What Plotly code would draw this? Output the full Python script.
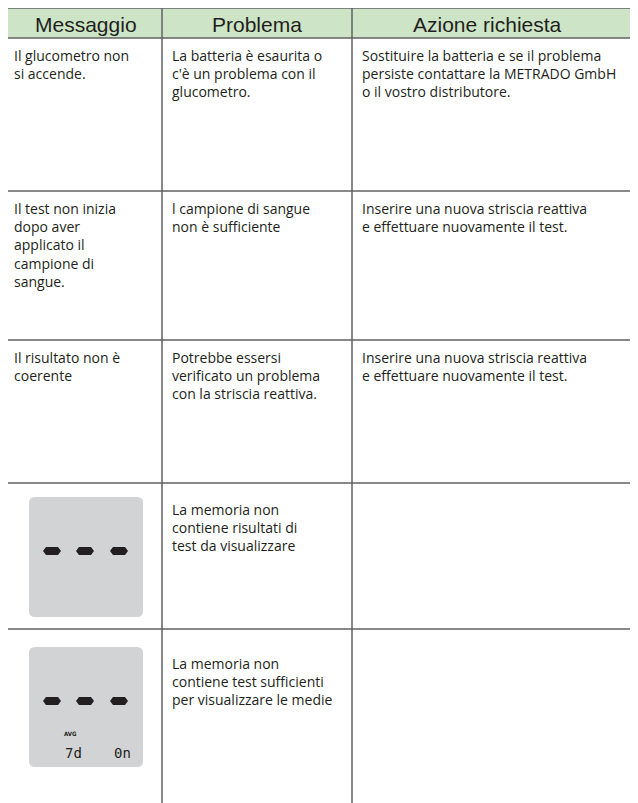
import plotly.graph_objects as go

# ---- table content ----
headers = ["Messaggio", "Problema", "Azione richiesta"]
messages = [
    "Il glucometro non<br>si accende.",
    "Il test non inizia<br>dopo aver<br>applicato il<br>campione di<br>sangue.",
    "Il risultato non è<br>coerente",
    "",
    "",
]
problems = [
    "La batteria è esaurita o<br>c'è un problema con il<br>glucometro.",
    "l campione di sangue<br>non è sufficiente",
    "Potrebbe essersi<br>verificato un problema<br>con la striscia reattiva.",
    "La memoria non<br>contiene risultati di<br>test da visualizzare",
    "La memoria non<br>contiene test sufficienti<br>per visualizzare le medie",
]
actions = [
    "Sostituire la batteria e se il problema<br>persiste contattare la METRADO GmbH<br>o il vostro distributore.",
    "Inserire una nuova striscia reattiva<br>e effettuare nuovamente il test.",
    "Inserire una nuova striscia reattiva<br>e effettuare nuovamente il test.",
    "",
    "",
]
lcd_rows = [3, 4]            # rows showing a display picture
lcd_avg = [False, True]      # second display shows AVG 7d 0n
lcd_labels = ["7d", "0n"]

# ---- layout geometry (page pixels) ----
W, H = 638, 803
PAGE_MARGIN = 8              # default body margin of the html page
col_x = [7, 162, 352, W]
header_top, header_bot = 8, 38
row_tops = [38, 191, 340, 483, 629]
text_offset = [6, 6, 6, 15, 23]
line_col = "#606163"
txt_col = "#231f20"
body_font = "Open Sans"

shapes = []
annos = []

# header band
shapes.append(dict(type="rect", x0=col_x[0], x1=W, y0=header_top, y1=header_bot,
                   fillcolor="#cde5c6", line=dict(width=0), layer="below"))
# horizontal rules
for y in [header_top, header_bot] + row_tops[1:]:
    shapes.append(dict(type="line", x0=col_x[0], x1=W, y0=y, y1=y,
                       line=dict(color=line_col, width=1.5)))
# vertical rules
for i, x in enumerate(col_x[:3]):
    shapes.append(dict(type="line", x0=x, x1=x, y0=header_top, y1=H,
                       line=dict(color=line_col, width=2 if i == 0 else 1.5)))

# header text
hdr_cx = [86, 257, 487]
for h, cx in zip(headers, hdr_cx):
    annos.append(dict(x=cx, y=(header_top + header_bot) / 2 + 1, text=h, showarrow=False,
                      xanchor="center", yanchor="middle",
                      font=dict(family="Liberation Sans, Arial", size=21, color=txt_col)))

# body text
text_x = [12, 170, 360]
for r, top in enumerate(row_tops):
    for c, col in enumerate([messages, problems, actions]):
        if col[r]:
            annos.append(dict(x=text_x[c], y=top + text_offset[r], text=col[r],
                              showarrow=False, xanchor="left", yanchor="top", align="left",
                              font=dict(family=body_font, size=14, color=txt_col)))

# LCD pictures
def rounded_rect(x0, y0, x1, y1, r):
    return (f"M{x0+r},{y0} L{x1-r},{y0} Q{x1},{y0} {x1},{y0+r} L{x1},{y1-r} "
            f"Q{x1},{y1} {x1-r},{y1} L{x0+r},{y1} Q{x0},{y1} {x0},{y1-r} "
            f"L{x0},{y0+r} Q{x0},{y0} {x0+r},{y0} Z")

def hexagon(cx, cy, w, h):
    hw, hh = w / 2, h / 2
    return (f"M{cx-hw},{cy} L{cx-hw+3},{cy-hh} L{cx+hw-3},{cy-hh} "
            f"L{cx+hw},{cy} L{cx+hw-3},{cy+hh} L{cx-hw+3},{cy+hh} Z")

box_tops = [497, 647]
for k, r in enumerate(lcd_rows):
    bt = box_tops[k]
    shapes.append(dict(type="path", path=rounded_rect(29, bt, 143, bt + 120, 6),
                       fillcolor="#d1d3d4", line=dict(width=0)))
    for cx in [52, 85, 119]:
        shapes.append(dict(type="path", path=hexagon(cx, bt + 54, 18, 8),
                           fillcolor="#231f20", line=dict(width=0)))
    if lcd_avg[k]:
        annos.append(dict(x=70, y=bt + 86, text="<b>AVG</b>", showarrow=False,
                          xanchor="center", yanchor="middle",
                          font=dict(family="DejaVu Sans Condensed", size=6, color="#231f20")))
        for lbl, cx in zip(lcd_labels, [73, 122]):
            annos.append(dict(x=cx, y=bt + 106, text=lbl, showarrow=False,
                              xanchor="center", yanchor="middle",
                              font=dict(family="DejaVu Sans Mono", size=14, color=txt_col)))

fig = go.Figure()
fig.update_layout(
    width=W - PAGE_MARGIN, height=H - PAGE_MARGIN, margin=dict(l=0, r=0, t=0, b=0),
    paper_bgcolor="white", plot_bgcolor="white",
    xaxis=dict(range=[PAGE_MARGIN, W], visible=False, fixedrange=True),
    yaxis=dict(range=[H, PAGE_MARGIN], visible=False, fixedrange=True),
    shapes=shapes, annotations=annos, showlegend=False,
)
fig.write_html("out.html", config={"displayModeBar": False})
